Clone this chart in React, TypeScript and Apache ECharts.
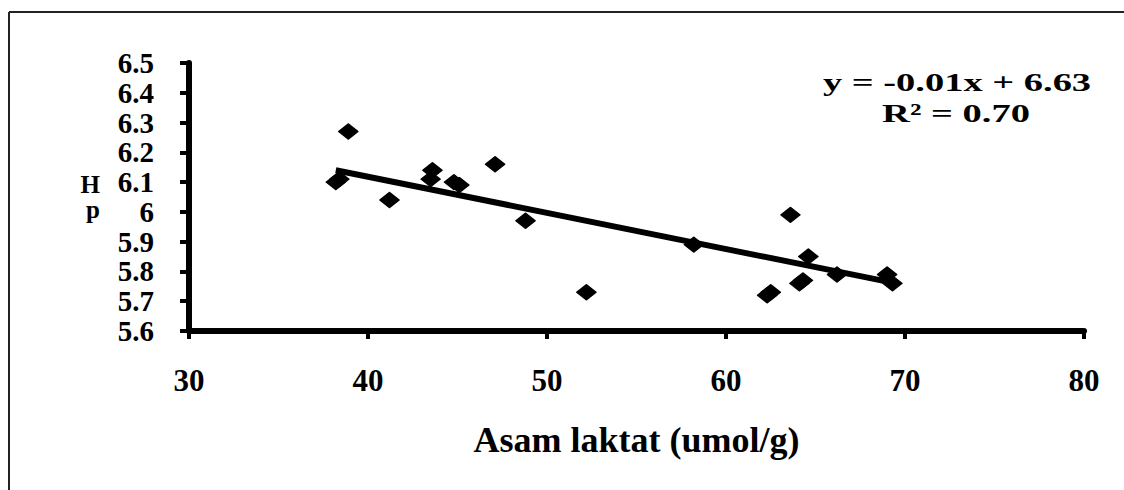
import React, { useEffect, useRef } from "react";
import * as echarts from "echarts";

// Scatter data
const lacticAcid = [38.2, 38.4, 38.9, 41.2, 43.5, 43.6, 44.8, 45.1, 47.1, 48.8, 52.2, 58.2, 62.3, 62.5, 63.6, 64.1, 64.3, 64.6, 66.2, 69.0, 69.3];
const phValues = [6.10, 6.11, 6.27, 6.04, 6.11, 6.14, 6.10, 6.09, 6.16, 5.97, 5.73, 5.89, 5.72, 5.73, 5.99, 5.76, 5.77, 5.85, 5.79, 5.79, 5.76];

// Trend line end points
const trendX = [38.2, 69.5];
const trendY = [6.14, 5.76];

const equationLines = ["y = -0.01x + 6.63", "R² = 0.70"];
const xAxisTitle = "Asam laktat (umol/g)";
const yAxisTitle = "H\np";

const FONT = "'Liberation Serif', 'Times New Roman', Times, serif";

export default function App() {
  const ref = useRef<HTMLDivElement>(null);

  useEffect(() => {
    if (!ref.current) return;
    const chart = echarts.init(ref.current, null, { renderer: "svg" });
    const points = lacticAcid.map((x, i) => [x, phValues[i]]);
    const trend = trendX.map((x, i) => [x, trendY[i]]);
    chart.setOption({
      animation: false,
      backgroundColor: "#ffffff",
      grid: { left: 189, right: 40, top: 63, bottom: 159, containLabel: false },
      xAxis: {
        type: "value",
        min: 30,
        max: 80,
        interval: 10,
        name: xAxisTitle,
        nameLocation: "middle",
        nameGap: 91,
        nameTextStyle: { fontFamily: FONT, fontWeight: "bold", fontSize: 36, color: "#000" },
        axisLine: { show: true, onZero: false, lineStyle: { color: "#000", width: 6 } },
        axisTick: { show: true, inside: false, length: 8, lineStyle: { color: "#000", width: 4 } },
        axisLabel: { fontFamily: FONT, fontWeight: "bold", fontSize: 31, color: "#000", margin: 34 },
        splitLine: { show: false },
      },
      yAxis: {
        type: "value",
        min: 5.6,
        max: 6.5,
        interval: 0.1,
        name: yAxisTitle,
        nameLocation: "middle",
        nameRotate: 0,
        nameGap: 89,
        nameTextStyle: { fontFamily: FONT, fontWeight: "bold", fontSize: 25, color: "#000", lineHeight: 25, align: "right" },
        axisLine: { show: true, onZero: false, lineStyle: { color: "#000", width: 6 } },
        axisTick: { show: true, inside: false, length: 9, lineStyle: { color: "#000", width: 4 } },
        axisLabel: {
          fontFamily: FONT,
          fontWeight: "bold",
          fontSize: 29,
          color: "#000",
          margin: 35,
          formatter: (v: number) => String(Math.round(v * 10) / 10),
        },
        splitLine: { show: false },
      },
      series: [
        {
          type: "line",
          data: trend,
          showSymbol: false,
          symbol: "none",
          lineStyle: { color: "#000", width: 6 },
          z: 2,
        },
        {
          type: "scatter",
          data: points,
          symbol: "diamond",
          symbolSize: [19, 15],
          itemStyle: { color: "#000", opacity: 1, borderColor: "#000", borderWidth: 1.5, borderJoin: "round" },
          z: 3,
        },
      ],
      graphic: [
        {
          type: "line",
          shape: { x1: 9, y1: 12, x2: 9, y2: 490 },
          style: { stroke: "#222", lineWidth: 2 },
        },
        {
          type: "line",
          shape: { x1: 9, y1: 12, x2: 1124, y2: 12 },
          style: { stroke: "#222", lineWidth: 2 },
        },
        {
          type: "text",
          x: 957,
          y: 82,
          scaleX: 1.48,
          style: {
            text: equationLines[0],
            fontFamily: FONT,
            fontWeight: "bold",
            fontSize: 26,
            fill: "#000",
            align: "center",
            verticalAlign: "middle",
          },
        },
        {
          type: "text",
          x: 956,
          y: 113,
          scaleX: 1.48,
          style: {
            text: equationLines[1],
            fontFamily: FONT,
            fontWeight: "bold",
            fontSize: 26,
            fill: "#000",
            align: "center",
            verticalAlign: "middle",
          },
        },
      ],
    });
    return () => chart.dispose();
  }, []);

  return (
    <div
      ref={ref}
      style={{ position: "fixed", left: 0, top: 0, width: 1124, height: 490, background: "#fff" }}
    />
  );
}
